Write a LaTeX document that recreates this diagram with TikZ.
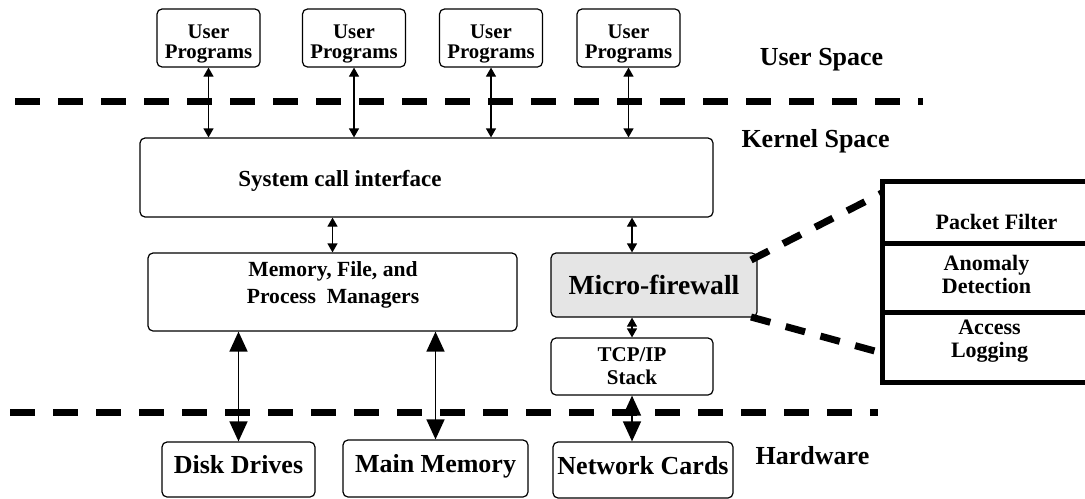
\documentclass[tikz,border=0pt]{standalone}
\usepackage{fontspec}
\setmainfont{Liberation Serif}
\usetikzlibrary{arrows.meta}

\begin{document}
\begin{tikzpicture}[x=0.5pt,y=-0.5pt,line width=0.6pt,
  box node/.style={rectangle,rounded corners=2.5pt,draw,fill=white,align=center,inner sep=0pt},
  user node/.style={box node,minimum width=51.5pt,minimum height=29pt,text height=22pt,text depth=2pt,font=\bfseries\fontsize{10.4}{10}\selectfont},
  hw node/.style={box node,text height=9pt,text depth=5pt,font=\bfseries\fontsize{13}{15}\selectfont},
  space label/.style={font=\bfseries\fontsize{13}{15}\selectfont},
  small label/.style={align=center,font=\bfseries\fontsize{11}{11.5}\selectfont},
  small arrow/.style={{Triangle[length=4.5pt,width=5pt]}-{Triangle[length=4.5pt,width=5pt]}},
  big arrow/.style={line width=0.75pt,{Triangle[length=10pt,width=9pt]}-{Triangle[length=10pt,width=9pt]}},
  sep line/.style={line width=3.5pt,dash pattern=on 12.5pt off 9pt},
  zoom line/.style={line width=3.5pt,dash pattern=on 10pt off 8pt},
  panel line/.style={line width=2.5pt}]

  \useasboundingbox (0,0) rectangle (1085,498);

  % separators
  \coordinate (sep1-l) at (15,101);
  \coordinate (sep1-r) at (923,101);
  \coordinate (sep2-l) at (10,412);
  \coordinate (sep2-r) at (878,412);
  \draw[sep line] (sep1-l) -- (sep1-r);
  \draw[sep line] (sep2-l) -- (sep2-r);

  % user space
  \node[user node] (u1) at (208.5,38) {User\\Programs};
  \node[user node] (u2) at (354,38) {User\\Programs};
  \node[user node] (u3) at (491,38) {User\\Programs};
  \node[user node] (u4) at (628.5,38) {User\\Programs};

  % kernel space
  \node[box node,minimum width=286.5pt,minimum height=39.5pt] (sys) at (426.5,177.5) {};
  \node[font=\bfseries\fontsize{11.5}{14}\selectfont] (sys-t) at (340,181) {System call interface};

  \node[box node,minimum width=184.5pt,minimum height=39pt] (mem) at (332.5,292) {};
  \node[align=center,font=\bfseries\fontsize{10.8}{13.5}\selectfont] (mem-t) at (333,285) {Memory, File, and\\Process\ \ Managers};

  \node[box node,fill=gray!20,minimum width=103pt,minimum height=32pt,font=\bfseries\fontsize{13.8}{16}\selectfont] (fw) at (654,285) {Micro-firewall};
  \node[box node,minimum width=81pt,minimum height=28.5pt,font=\bfseries\fontsize{10.5}{11.5}\selectfont] (tcp) at (632,366.5) {TCP/IP\\Stack};

  % hardware
  \node[hw node,minimum width=76.5pt,minimum height=27.5pt] (disk) at (238.5,469.5) {Disk Drives};
  \node[hw node,minimum width=92.5pt,minimum height=28.5pt] (main) at (435.5,468.5) {Main Memory};
  \node[hw node,minimum width=90pt,minimum height=28pt] (net) at (643,470) {Network Cards};

  \node[space label] (user-sp) at (821.5,60) {User Space};
  \node[space label] (kern-sp) at (815.5,141) {Kernel Space};
  \node[space label] (hw-sp) at (812.5,456) {Hardware};

  % firewall detail
  \coordinate (fw-a) at (751,260);
  \coordinate (fw-b) at (751,317);
  \coordinate (pan-a) at (882,193);
  \coordinate (pan-b) at (882,353);
  \coordinate (pan-bot) at (882,382);
  \draw[panel line] (1090,181) -| (pan-bot) -- (1090,382);
  \draw[panel line] (882,243) -- (1090,243);
  \draw[panel line] (882,312) -- (1090,312);
  \draw[zoom line] (fw-a) -- (pan-a);
  \draw[zoom line] (fw-b) -- (pan-b);

  \node[small label] (pf) at (996.5,221.5) {Packet Filter};
  \node[small label] (ad) at (986.5,274) {Anomaly\\Detection};
  \node[small label] (al) at (989.5,341.5) {Access\\Logging};

  \path[small arrow]
    (u1) edge (u1 |- sys.north)
    (u2) edge (u2 |- sys.north)
    (u3) edge (u3 |- sys.north)
    (u4) edge (u4 |- sys.north)
    (mem.north |- sys.south) edge (mem)
    (tcp.north |- sys.south) edge (tcp.north |- fw.north)
    (tcp.north |- fw.south) edge (tcp);

  \path[big arrow]
    (disk.north |- mem.south) edge (disk)
    (main.north |- mem.south) edge (main)
    (tcp) edge (tcp.south |- net.north);

\end{tikzpicture}
\end{document}
